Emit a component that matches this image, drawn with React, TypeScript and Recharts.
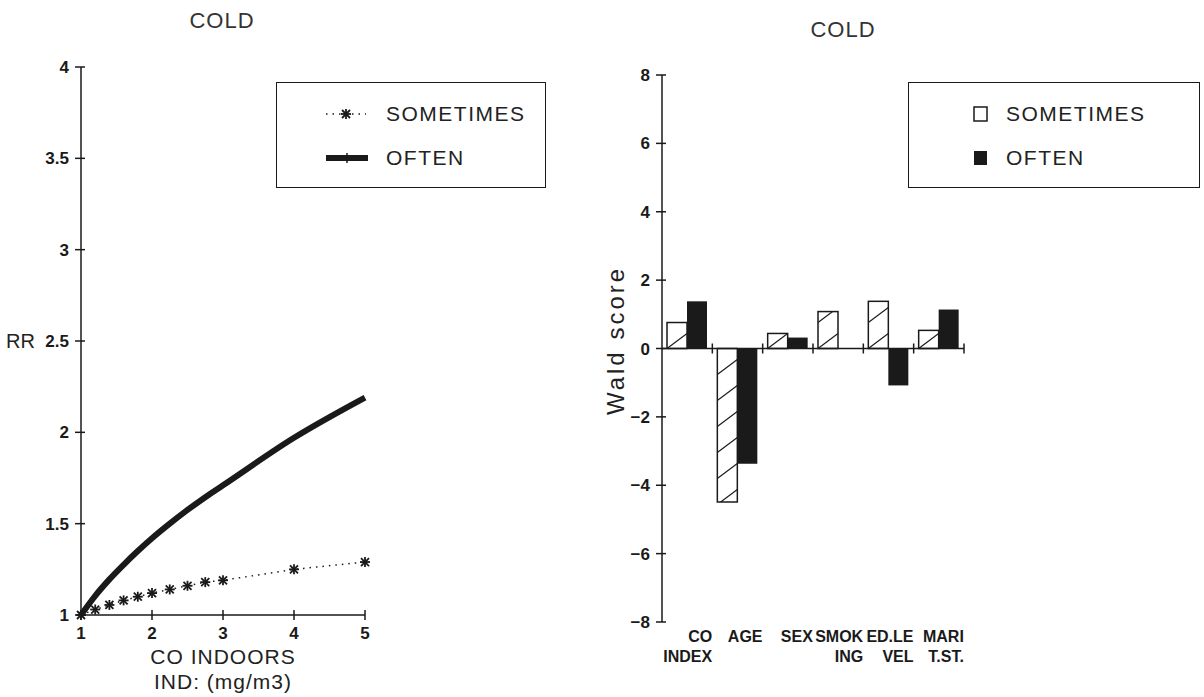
import React from 'react';
import { LineChart, Line, XAxis, YAxis, Legend, BarChart, Bar, ReferenceLine } from 'recharts';

// CO indoors (mg/m3) and relative risk of "cold" symptoms
const coLevels = [1, 1.2, 1.4, 1.6, 1.8, 2, 2.25, 2.5, 2.75, 3, 4, 5];
const rrSometimes = [1, 1.03, 1.055, 1.08, 1.1, 1.12, 1.14, 1.16, 1.18, 1.19, 1.25, 1.29];
const rrOften = [1, 1.105, 1.195, 1.275, 1.35, 1.42, 1.5, 1.575, 1.645, 1.71, 1.97, 2.19];
const rrTicks = [1, 1.5, 2, 2.5, 3, 3.5, 4];
const coTicks = [1, 2, 3, 4, 5];

// Wald scores per covariate
const factors = ['CO INDEX', 'AGE', 'SEX', 'SMOKING', 'ED.LEVEL', 'MARIT.ST.'];
const factorLabels = [['CO', 'INDEX'], ['AGE', ''], ['SEX', ''], ['SMOK', 'ING'], ['ED.LE', 'VEL'], ['MARI', 'T.ST.']];
const waldSometimes = [0.76, -4.49, 0.44, 1.08, 1.38, 0.53];
const waldOften = [1.38, -3.37, 0.32, 0, -1.08, 1.14];
const waldTicks = [-8, -6, -4, -2, 0, 2, 4, 6, 8];

const rrData = coLevels.map((co, i) => ({ co, sometimes: rrSometimes[i], often: rrOften[i] }));
const waldData = factors.map((name, i) => ({ name, sometimes: waldSometimes[i], often: waldOften[i] }));

const INK = '#1a1a1a';
const FONT = '"Liberation Sans", Arial, sans-serif';

const YTick = ({ x, y, payload, fmt }: any) => (
  <g>
    <line x1={x - 6} x2={x + 4} y1={y} y2={y} stroke={INK} strokeWidth={1.5} />
    <text x={x - 12} y={y} dy={6} textAnchor="end" style={{ fontSize: 17, fontWeight: 'bold' }} fill={INK} fontFamily={FONT}>
      {fmt ? fmt(payload.value) : payload.value}
    </text>
  </g>
);

const XTick = ({ x, y, payload }: any) => (
  <g>
    <line x1={x} x2={x} y1={y - 5} y2={y + 5} stroke={INK} strokeWidth={1.5} />
    <text x={x} y={y + 24} textAnchor="middle" style={{ fontSize: 17, fontWeight: 'bold' }} fill={INK} fontFamily={FONT}>
      {payload.value}
    </text>
  </g>
);

const FactorTick = ({ x, y, payload }: any) => {
  const [a, b] = factorLabels[factors.indexOf(payload.value)];
  return (
    <g style={{ fontSize: 16, fontWeight: 'bold' }} fill={INK} fontFamily={FONT} textAnchor="end">
      <text x={x + 25} y={y + 20}>{a}</text>
      <text x={x + 25} y={y + 40}>{b}</text>
    </g>
  );
};

const Asterisk = ({ cx, cy }: any) => (
  <g stroke={INK} strokeWidth={1.8}>
    <line x1={cx - 5} y1={cy} x2={cx + 5} y2={cy} />
    <line x1={cx} y1={cy - 5} x2={cx} y2={cy + 5} />
    <line x1={cx - 4} y1={cy - 4} x2={cx + 4} y2={cy + 4} />
    <line x1={cx - 4} y1={cy + 4} x2={cx + 4} y2={cy - 4} />
  </g>
);

// open bar with sparse "/" hatching, drawn outward from the zero line
const HatchBar = (props: any) => {
  const { x, y, width, height, index, payload } = props;
  const top = Math.min(y, y + height);
  const h = Math.abs(height);
  if (!h) return null;
  const zero = payload.sometimes >= 0 ? top + h : top;
  const id = `hatch-clip-${index}`;
  const lines = [];
  for (let k = -20; k <= 20; k++) {
    const y0 = zero + k * 26;
    if (y0 < top - 20 || y0 > top + h + 20) continue;
    lines.push(<line key={k} x1={x} y1={y0} x2={x + width} y2={y0 - 15} />);
  }
  return (
    <g>
      <clipPath id={id}>
        <rect x={x} y={top} width={width} height={h} />
      </clipPath>
      <rect x={x} y={top} width={width} height={h} fill="#fff" />
      <g clipPath={`url(#${id})`} stroke={INK} strokeWidth={1.2}>{lines}</g>
      <rect x={x} y={top} width={width} height={h} fill="none" stroke={INK} strokeWidth={1.5} />
    </g>
  );
};

const ZeroAxis = ({ x1, y1, x2, y2 }: any) => {
  const step = (x2 - x1) / factors.length;
  return (
    <g stroke={INK} strokeWidth={1.5}>
      <line x1={x1} y1={y1} x2={x2} y2={y2} />
      {factors.map((f, i) => (
        <line key={f} x1={x1 + step * (i + 1)} x2={x1 + step * (i + 1)} y1={y1 - 5} y2={y1 + 5} />
      ))}
    </g>
  );
};

const legendText: React.CSSProperties = {
  position: 'absolute', fontSize: 21, letterSpacing: 1.5, color: '#222', fontFamily: FONT, lineHeight: '24px',
};

const LineLegend = () => (
  <div style={{ boxSizing: 'border-box', width: '100%', height: '100%', border: `1.5px solid ${INK}`, background: '#fff', position: 'relative' }}>
    <svg width={50} height={100} style={{ position: 'absolute', left: 45, top: 0 }}>
      <line x1={4} x2={44} y1={31} y2={31} stroke={INK} strokeWidth={1.5} strokeDasharray="1.5 5" />
      <Asterisk cx={24} cy={31} />
      <line x1={4} x2={46} y1={75} y2={75} stroke={INK} strokeWidth={6} />
      <line x1={25} x2={25} y1={70} y2={80} stroke={INK} strokeWidth={1.5} />
    </svg>
    <div style={{ ...legendText, left: 109, top: 19 }}>SOMETIMES</div>
    <div style={{ ...legendText, left: 109, top: 63 }}>OFTEN</div>
  </div>
);

const BarLegend = () => (
  <div style={{ boxSizing: 'border-box', width: '100%', height: '100%', border: `1.5px solid ${INK}`, background: '#fff', position: 'relative' }}>
    <svg width={30} height={100} style={{ position: 'absolute', left: 60, top: 0 }}>
      <rect x={5} y={24} width={13} height={14} fill="#fff" stroke={INK} strokeWidth={1.5} />
      <rect x={5} y={68} width={13} height={14} fill={INK} />
    </svg>
    <div style={{ ...legendText, left: 97, top: 19 }}>SOMETIMES</div>
    <div style={{ ...legendText, left: 97, top: 63 }}>OFTEN</div>
  </div>
);

const title: React.CSSProperties = {
  position: 'absolute', fontSize: 22, letterSpacing: 1, color: '#333', fontFamily: FONT, transform: 'translateX(-50%)',
};

const minus = (v: number) => String(v).replace('-', '\u2212');

export default function App() {
  return (
    <div style={{ position: 'absolute', left: 0, top: 0, width: 1204, height: 697, background: '#fff', fontFamily: FONT }}>
      <div style={{ ...title, left: 222, top: 8 }}>COLD</div>
      <div style={{ ...title, left: 843, top: 17 }}>COLD</div>

      <div style={{ position: 'absolute', left: 0, top: 0 }}>
        <LineChart width={580} height={697} data={rrData} margin={{ top: 67, right: 215, bottom: 52, left: 0 }}>
          <XAxis
            dataKey="co"
            type="number"
            domain={[1, 5]}
            ticks={coTicks}
            height={30}
            tickSize={0}
            tickMargin={0}
            tickLine={false}
            axisLine={{ stroke: INK, strokeWidth: 1.5 }}
            tick={<XTick />}
            label={{
              content: ({ viewBox }: any) => {
                const cx = viewBox.x + viewBox.width / 2;
                return (
                  <g style={{ fontSize: 21 }} letterSpacing={1} fill="#222" fontFamily={FONT} textAnchor="middle">
                    <text x={cx} y={664}>CO INDOORS</text>
                    <text x={cx} y={689}>IND: (mg/m3)</text>
                  </g>
                );
              },
            }}
          />
          <YAxis
            type="number"
            domain={[1, 4]}
            ticks={rrTicks}
            width={81}
            tickSize={0}
            tickMargin={0}
            tickLine={false}
            axisLine={{ stroke: INK, strokeWidth: 1.5 }}
            tick={<YTick />}
            label={{
              content: ({ viewBox }: any) => (
                <text x={6} y={viewBox.y + viewBox.height / 2 + 7} style={{ fontSize: 20 }} fill="#222" fontFamily={FONT}>RR</text>
              ),
            }}
          />
          <Legend
            layout="horizontal"
            verticalAlign="middle"
            align="center"
            wrapperStyle={{ left: 276, top: 82, width: 270, height: 106 }}
            content={<LineLegend />}
          />
          <Line
            dataKey="sometimes"
            name="SOMETIMES"
            type="linear"
            stroke={INK}
            strokeWidth={1.5}
            strokeDasharray="1.5 5"
            dot={<Asterisk />}
            isAnimationActive={false}
          />
          <Line
            dataKey="often"
            name="OFTEN"
            type="monotone"
            stroke={INK}
            strokeWidth={6}
            dot={false}
            isAnimationActive={false}
          />
        </LineChart>
      </div>

      <div style={{ position: 'absolute', left: 580, top: 0 }}>
        <BarChart
          width={624}
          height={697}
          data={waldData}
          margin={{ top: 75, right: 240, bottom: 35, left: 0 }}
          barCategoryGap={5}
          barGap={0}
        >
          <XAxis
            dataKey="name"
            height={40}
            interval={0}
            tickSize={0}
            tickMargin={0}
            tickLine={false}
            axisLine={false}
            tick={<FactorTick />}
          />
          <YAxis
            type="number"
            domain={[-8, 8]}
            ticks={waldTicks}
            width={82}
            tickSize={0}
            tickMargin={0}
            tickLine={false}
            axisLine={{ stroke: INK, strokeWidth: 1.5 }}
            tick={<YTick fmt={minus} />}
            label={{
              content: ({ viewBox }: any) => {
                const cy = viewBox.y + viewBox.height / 2 - 8;
                return (
                  <text x={44} y={cy} style={{ fontSize: 24 }} letterSpacing={3} fill="#222" fontFamily={FONT} textAnchor="middle" transform={`rotate(-90, 44, ${cy})`}>
                    Wald score
                  </text>
                );
              },
            }}
          />
          <Legend
            layout="horizontal"
            verticalAlign="middle"
            align="center"
            wrapperStyle={{ left: 328, top: 82, width: 292, height: 106 }}
            content={<BarLegend />}
          />
          <ReferenceLine y={0} shape={<ZeroAxis />} />
          <Bar dataKey="sometimes" name="SOMETIMES" shape={<HatchBar />} isAnimationActive={false} />
          <Bar dataKey="often" name="OFTEN" fill={INK} isAnimationActive={false} />
        </BarChart>
      </div>
    </div>
  );
}
